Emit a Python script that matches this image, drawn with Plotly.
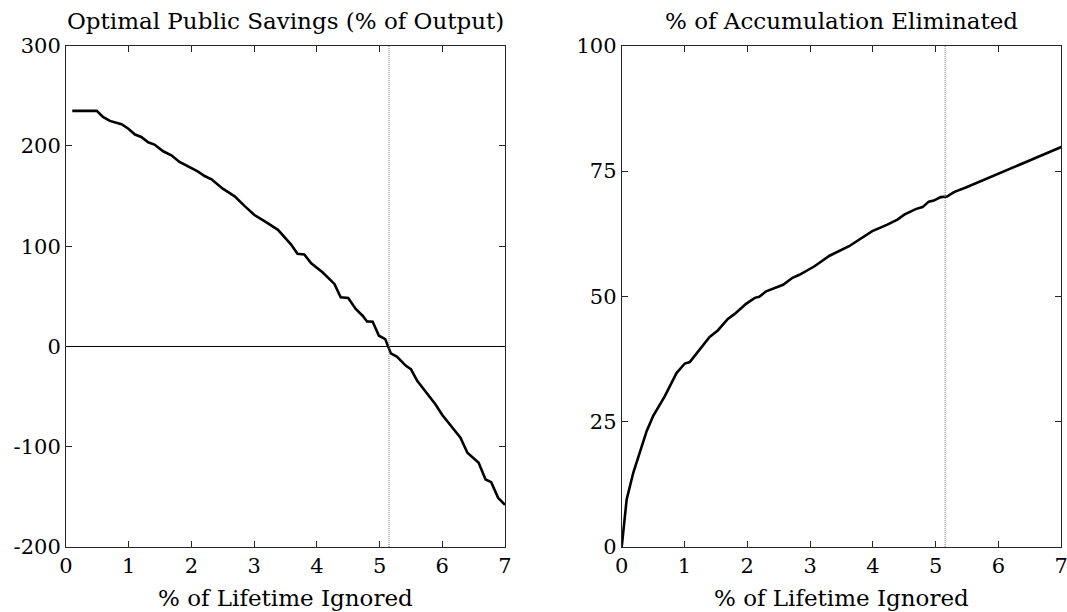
import plotly.graph_objects as go

# Left panel: Optimal Public Savings (% of Output)
x_left = [0.10, 0.49, 0.59, 0.70, 0.885, 0.99, 1.10, 1.20, 1.31, 1.41, 1.55, 1.68, 1.81, 1.94,
          2.10, 2.21, 2.32, 2.50, 2.69, 2.85, 3.00, 3.19, 3.38, 3.59, 3.69, 3.80, 3.91, 4.09,
          4.28, 4.38, 4.50, 4.62, 4.73, 4.80, 4.89, 4.99, 5.09, 5.18, 5.28, 5.42, 5.50, 5.60,
          5.73, 5.89, 6.00, 6.13, 6.29, 6.40, 6.58, 6.69, 6.78, 6.89, 7.00]
y_left = [235, 235, 229, 225, 221.7, 217.4, 211.4, 209, 203.7, 201.4, 194.7, 190.7, 184, 179.7,
          174.7, 170, 166.7, 157.4, 149.7, 140, 131.4, 124, 116.4, 101.7, 92.4, 91.7, 83, 74,
          62.4, 49, 48.4, 37.4, 30.7, 25, 24.7, 10.7, 7.4, -6.9, -10.3, -19.3, -22.6, -34.3,
          -44.3, -57.6, -68.3, -78.3, -91, -106, -116, -132.6, -135.3, -151, -158]

# Right panel: % of Accumulation Eliminated
x_right = [0.0, 0.079, 0.184, 0.29, 0.397, 0.50, 0.687, 0.873, 1.005, 1.084, 1.216, 1.40, 1.53,
           1.69, 1.80, 1.98, 2.12, 2.19, 2.30, 2.57, 2.72, 2.83, 3.07, 3.31, 3.62, 3.78, 3.99,
           4.23, 4.39, 4.50, 4.68, 4.79, 4.89, 4.97, 5.08, 5.18, 5.29, 5.48, 5.69, 5.90, 6.11,
           6.37, 6.59, 6.75, 7.00]
y_right = [0.0, 9.5, 14.8, 19.1, 23.1, 26.1, 30.1, 34.7, 36.6, 36.9, 39.0, 41.9, 43.2, 45.5,
           46.5, 48.5, 49.7, 49.9, 51.0, 52.3, 53.7, 54.3, 56.0, 58.1, 60.0, 61.3, 63.0, 64.3,
           65.3, 66.3, 67.4, 67.8, 68.9, 69.1, 69.8, 69.9, 70.8, 71.7, 72.8, 74.0, 75.1, 76.4,
           77.6, 78.4, 79.8]

x_ticks = [0, 1, 2, 3, 4, 5, 6, 7]
left_yticks = [-200, -100, 0, 100, 200, 300]
left_yticklabels = ["-200", "-100", "0", "100", "200", "300"]
right_yticks = [0, 25, 50, 75, 100]
right_yticklabels = ["0", "25", "50", "75", "100"]
marker_x = 5.15

left_title = "Optimal Public Savings (% of Output)"
right_title = "% of Accumulation Eliminated"
x_title = "% of Lifetime Ignored"

FONT = "DejaVu Serif"
FS = 21
TFS = 23
AX = "#262626"

fig = go.Figure()
fig.add_trace(go.Scatter(x=x_left, y=y_left, mode="lines",
                         line=dict(color="black", width=2.6), xaxis="x", yaxis="y",
                         showlegend=False))
fig.add_trace(go.Scatter(x=x_right, y=y_right, mode="lines",
                         line=dict(color="black", width=2.6), xaxis="x2", yaxis="y2",
                         showlegend=False))

W, H = 1067, 612
ydom = [1 - 547 / H, 1 - 45.7 / H]
xdom1 = [66 / W, 505 / W]
xdom2 = [621.7 / W, 1061.3 / W]

common_x = dict(range=[0, 7], tickvals=x_ticks, ticks="inside", ticklen=6, tickcolor=AX,
                showline=True, linecolor=AX, linewidth=1, mirror="ticks", showgrid=False,
                zeroline=False, tickfont=dict(family=FONT, size=FS, color="black"),
                ticklabeloverflow="allow", automargin=False)
common_y = dict(ticks="inside", ticklen=6, tickcolor=AX, showline=True, linecolor=AX,
                linewidth=1, mirror="ticks", showgrid=False, zeroline=False,
                tickfont=dict(family=FONT, size=FS, color="black"),
                ticklabeloverflow="allow", automargin=False)

ann = []
for dom, t in ((xdom1, left_title), (xdom2, right_title)):
    ann.append(dict(text=t, xref="paper", yref="paper", x=(dom[0] + dom[1]) / 2,
                    y=ydom[1], yanchor="bottom", xanchor="center", showarrow=False,
                    yshift=10, font=dict(family=FONT, size=TFS, color="black")))
    ann.append(dict(text=x_title, xref="paper", yref="paper", x=(dom[0] + dom[1]) / 2,
                    y=1 - 598 / H, yanchor="middle", xanchor="center", showarrow=False,
                    font=dict(family=FONT, size=TFS, color="black")))

fig.update_layout(
    width=W, height=H,
    margin=dict(l=0, r=0, t=0, b=0),
    paper_bgcolor="white", plot_bgcolor="white",
    xaxis=dict(domain=xdom1, anchor="y", **common_x),
    yaxis=dict(domain=ydom, anchor="x", range=[-200, 300], tickvals=left_yticks,
               ticktext=left_yticklabels, **common_y),
    xaxis2=dict(domain=xdom2, anchor="y2", **common_x),
    yaxis2=dict(domain=ydom, anchor="x2", range=[0, 100], tickvals=right_yticks,
                ticktext=right_yticklabels, **common_y),
    shapes=[
        dict(type="line", xref="x", yref="y", x0=0, x1=7, y0=0, y1=0,
             line=dict(color="black", width=1)),
        dict(type="line", xref="x", yref="y", x0=marker_x, x1=marker_x, y0=-200, y1=300,
             line=dict(color="#777777", width=1, dash="1px,1px")),
        dict(type="line", xref="x2", yref="y2", x0=marker_x, x1=marker_x, y0=0, y1=100,
             line=dict(color="#777777", width=1, dash="1px,1px")),
    ],
    annotations=ann,
)

fig.write_html("out.html", config={"displayModeBar": False},
               post_script="document.body.style.margin='0';")
